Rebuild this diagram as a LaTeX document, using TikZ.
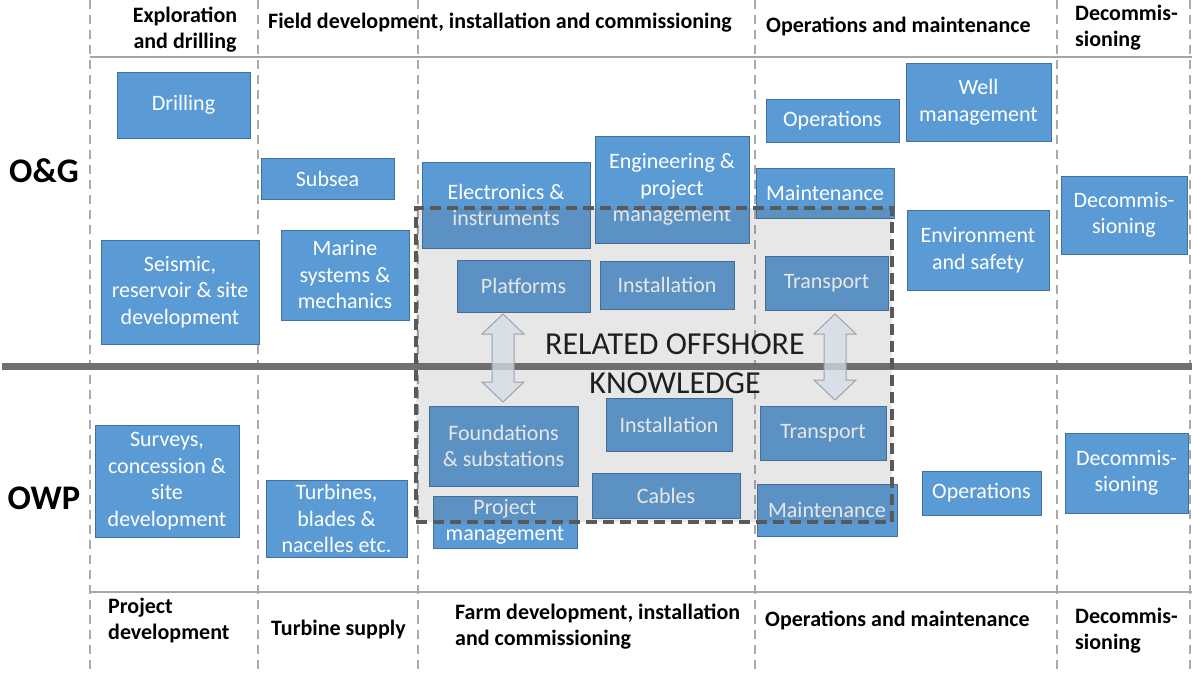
\documentclass[tikz,border=0pt]{standalone}
\usepackage{fontspec}
\setmainfont{Carlito}
\begin{document}
\begin{tikzpicture}[x=1pt,y=-1pt,
  blk/.style={draw=boxedge, line width=0.8pt, fill=boxfill, text=white,
    align=center, inner sep=0pt, font=\fontsize{22}{26.5}\selectfont},
  hdr/.style={inner sep=0pt, font=\bfseries\fontsize{22}{26}\selectfont},
  side/.style={inner sep=0pt, font=\bfseries\fontsize{34.5}{40}\selectfont},
  phase/.style={draw=phasegray, line width=2pt, dash pattern=on 9pt off 6pt},
  rule/.style={draw=rulegray, line width=2.5pt},
  updown/.style={draw=arrowedge, line width=1pt, fill=arrowfill, fill opacity=0.75},
]
\definecolor{boxfill}{HTML}{5B9BD5}
\definecolor{boxedge}{HTML}{41719C}
\definecolor{phasegray}{HTML}{ADA9A9}
\definecolor{rulegray}{HTML}{A6A6A6}
\definecolor{midline}{HTML}{717171}
\definecolor{zoneedge}{HTML}{595959}
\definecolor{arrowfill}{HTML}{D5DDE6}
\definecolor{arrowedge}{HTML}{9DA3AA}

\useasboundingbox (0,0) rectangle (1192,675);
\fill[white] (0,0) rectangle (1192,675);

% phase separators
\foreach \xx in {90,258,418,755,1057,1190}
  \draw[phase] (\xx,0) -- (\xx,675);

% header / footer rules and the dividing line
\draw[rule] (90,57) -- (1192,57);
\draw[rule] (90,592) -- (1192,592);
\draw[draw=midline, line width=7pt] (2,366) -- (1192,366);

% sector labels
\node[side] (og) at (44,171) {O\&G};
\node[side] (owp) at (44,498) {OWP};

% O&G value chain headers
\node[hdr, align=center] (h1) at (185,30) {Exploration\\and drilling};
\node[hdr, anchor=west] (h2) at (268,23) {Field development, installation and commissioning};
\node[hdr, anchor=west] (h3) at (766,26) {Operations and maintenance};
\node[hdr, anchor=west, align=left] (h4) at (1075,28) {Decommis-\\sioning};

% OWP value chain headers
\node[hdr, anchor=west, align=left] (f1) at (108,621) {Project\\development};
\node[hdr, anchor=west] (f2) at (271,630) {Turbine supply};
\node[hdr, anchor=west, align=left] (f3) at (455,627) {Farm development, installation\\and commissioning};
\node[hdr, anchor=west] (f4) at (765,620) {Operations and maintenance};
\node[hdr, anchor=west, align=left] (f5) at (1075,631) {Decommis-\\sioning};

% O&G activities
\node[blk, minimum width=133pt, minimum height=66pt] (drill) at (183.5,105) {Drilling};
\node[blk, minimum width=133pt, minimum height=41pt] (subsea) at (327.5,178.5) {Subsea};
\node[blk, minimum width=158pt, minimum height=104pt] (seis) at (180,292) {Seismic,\\reservoir \& site\\development};
\node[blk, minimum width=128pt, minimum height=90pt] (marine) at (345,275) {Marine\\systems \&\\mechanics};
\node[blk, minimum width=168pt, minimum height=86pt] (elec) at (506,205) {Electronics \&\\instruments};
\node[blk, minimum width=154pt, minimum height=107pt] (eng) at (672,189.5) {Engineering \&\\project\\management};
\node[blk, minimum width=133pt, minimum height=52pt] (plat) at (523.5,286) {Platforms};
\node[blk, minimum width=134pt, minimum height=48pt] (instA) at (667,285) {Installation};
\node[blk, minimum width=133pt, minimum height=43pt] (opsA) at (832.5,120.5) {Operations};
\node[blk, minimum width=145pt, minimum height=78pt] (well) at (978.5,102) {Well\\management};
\node[blk, minimum width=138pt, minimum height=50pt] (mntA) at (825,193) {Maintenance};
\node[blk, minimum width=123pt, minimum height=54pt] (trA) at (826.5,283) {Transport};
\node[blk, minimum width=142pt, minimum height=80pt] (env) at (978,250) {Environment\\and safety};
\node[blk, minimum width=126pt, minimum height=78pt] (decA) at (1124,215) {Decommis-\\sioning};

% OWP activities
\node[blk, minimum width=144pt, minimum height=112pt] (surv) at (167,481) {Surveys,\\concession \&\\site\\development};
\node[blk, minimum width=141pt, minimum height=77pt] (turb) at (336.5,518.5) {Turbines,\\blades \&\\nacelles etc.};
\node[blk, minimum width=149pt, minimum height=80pt] (found) at (503.5,446) {Foundations\\\& substations};
\node[blk, minimum width=126pt, minimum height=53pt] (instB) at (669,424.5) {Installation};
\node[blk, minimum width=144pt, minimum height=52pt] (pm) at (505,522) {Project\\management};
\node[blk, minimum width=148pt, minimum height=45pt] (cab) at (666,495.5) {Cables};
\node[blk, minimum width=126pt, minimum height=54pt] (trB) at (823,433) {Transport};
\node[blk, minimum width=140pt, minimum height=52pt] (mntB) at (827,510) {Maintenance};
\node[blk, minimum width=119pt, minimum height=44pt] (opsB) at (981.5,493) {Operations};
\node[blk, minimum width=123pt, minimum height=80pt] (decB) at (1126.5,473) {Decommis-\\sioning};

% shared knowledge zone
\node[fill=black!62, fill opacity=0.15, draw=zoneedge, draw opacity=1,
      line width=3.2pt, dash pattern=on 11pt off 6pt,
      minimum width=476pt, minimum height=314pt, inner sep=0pt] (zone) at (654,365) {};

% two-way transfer arrows
\foreach \cx/\tp/\bt in {503/314/402, 835/314/400}
  \draw[updown] (\cx,\tp) -- (\cx+21,\tp+20) -- (\cx+11,\tp+20) -- (\cx+11,\bt-20)
    -- (\cx+21,\bt-20) -- (\cx,\bt) -- (\cx-21,\bt-20) -- (\cx-11,\bt-20)
    -- (\cx-11,\tp+20) -- (\cx-21,\tp+20) -- cycle;

\node[inner sep=0pt, align=center, text=black!88,
      font=\fontsize{32}{39}\selectfont] (rok) at (675,364) {RELATED OFFSHORE\\KNOWLEDGE};
\end{tikzpicture}
\end{document}
